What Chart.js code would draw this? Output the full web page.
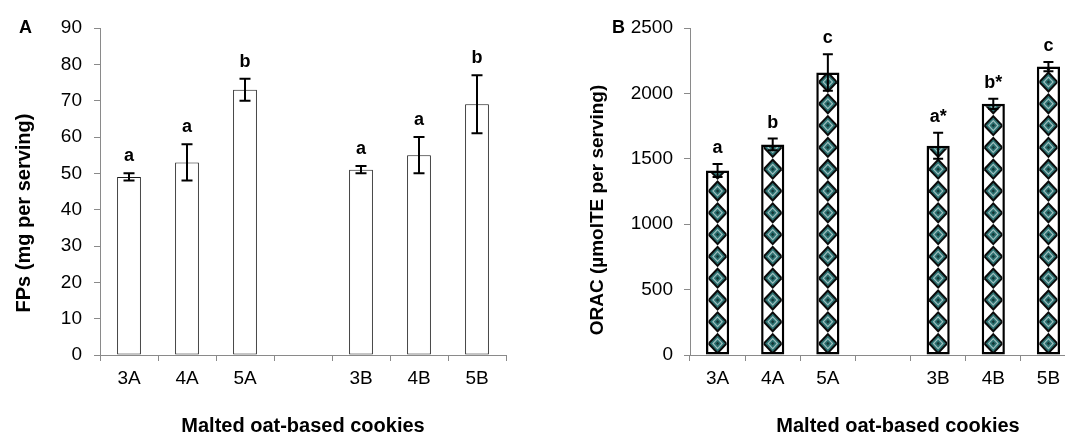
<!DOCTYPE html>
<html>
<head>
<meta charset="utf-8">
<script src="https://cdn.jsdelivr.net/npm/chart.js@4"></script>
<style>
  html, body { margin: 0; padding: 0; width: 1065px; height: 434px; overflow: hidden; background: #fff; }
  #wrap { position: relative; width: 1065px; height: 434px; overflow: hidden; }
  canvas { position: absolute; top: 0; }
  #fps { left: 0; }
  #orac { left: 545px; }
</style>
</head>
<body>
<div id="wrap">
  <canvas id="fps" width="545" height="434"></canvas>
  <canvas id="orac" width="545" height="434"></canvas>
</div>
<script>
// Cookie formulations (blank slot separates the A and B series)
const categories = ['3A', '4A', '5A', '', '3B', '4B', '5B'];

// Panel A: free phenolics, mg per serving (mean and SD)
const fpsMeans   = [49, 53, 73, null, 51, 55, 69];
const fpsErrors  = [1, 5, 3, null, 1, 5, 8];
const fpsLetters = ['a', 'a', 'b', '', 'a', 'a', 'b'];
const fpsTicks   = { min: 0, max: 90, step: 10 };

// Panel B: ORAC, µmol TE per serving (mean and SD)
const oracMeans   = [1410, 1610, 2160, null, 1600, 1920, 2205];
const oracErrors  = [50, 45, 140, null, 100, 40, 35];
const oracLetters = ['a', 'b', 'c', '', 'a*', 'b*', 'c'];
const oracTicks   = { min: 0, max: 2500, step: 500 };

const FONT = '"Liberation Sans", Arial, Helvetica, sans-serif';
const AXIS_GREY = '#8a8a8a';

// Column of layered diamonds inside each bar
const diamondFill = {
  id: 'diamondFill',
  afterDatasetsDraw(chart, args, opts) {
    if (!opts.enabled) return;
    const { ctx, scales: { y } } = chart;
    const meta = chart.getDatasetMeta(0);
    const values = chart.data.datasets[0].data;
    const bw = opts.border;
    const h = y.getPixelForValue(0) - y.getPixelForValue(opts.unitsPerDiamond);
    const layers = [
      [1.0, '#0a0a0a'],
      [0.74, '#2a6f6f'],
      [0.53, '#9fbfbf'],
      [0.37, '#2a6f6f'],
      [0.16, '#143636']
    ];
    meta.data.forEach((bar, i) => {
      if (values[i] == null) return;
      const { x, y: top, base, width } = bar.getProps(['x', 'y', 'base', 'width'], true);
      const l = x - width / 2 + bw, r = x + width / 2 - bw;
      const t = top + bw, b = base - bw;
      const hw = width / 2 - bw / 2, hh = h / 2;
      ctx.save();
      ctx.beginPath();
      ctx.rect(l, t, r - l, b - t);
      ctx.clip();
      for (let cy = base - hh; cy + hh > t; cy -= h) {
        layers.forEach(([s, c]) => {
          ctx.beginPath();
          ctx.moveTo(x, cy - hh * s);
          ctx.lineTo(x + hw * s, cy);
          ctx.lineTo(x, cy + hh * s);
          ctx.lineTo(x - hw * s, cy);
          ctx.closePath();
          ctx.fillStyle = c;
          ctx.fill();
        });
      }
      ctx.restore();
    });
  }
};

// SD whiskers and significance letters above each bar
const errorBars = {
  id: 'errorBars',
  afterDatasetsDraw(chart, args, opts) {
    const { ctx, scales: { y } } = chart;
    const meta = chart.getDatasetMeta(0);
    const values = chart.data.datasets[0].data;
    ctx.save();
    ctx.strokeStyle = '#000';
    ctx.lineWidth = 2;
    ctx.fillStyle = '#000';
    ctx.font = 'bold 18px ' + FONT;
    ctx.textAlign = 'center';
    ctx.textBaseline = 'alphabetic';
    meta.data.forEach((bar, i) => {
      const v = values[i];
      if (v == null) return;
      const e = opts.errors[i];
      const top = y.getPixelForValue(v + e);
      const bot = y.getPixelForValue(v - e);
      const x = bar.x, c = opts.cap / 2;
      ctx.beginPath();
      ctx.moveTo(x, top); ctx.lineTo(x, bot);
      ctx.moveTo(x - c, top); ctx.lineTo(x + c, top);
      ctx.moveTo(x - c, bot); ctx.lineTo(x + c, bot);
      ctx.stroke();
      ctx.fillText(opts.letters[i], x, top - opts.gap);
    });
    ctx.restore();
  }
};

// Panel letter and axis titles
const panelText = {
  id: 'panelText',
  afterDraw(chart, args, opts) {
    const { ctx } = chart;
    ctx.save();
    ctx.fillStyle = '#000';
    ctx.textBaseline = 'alphabetic';
    ctx.font = 'bold 18px ' + FONT;
    ctx.textAlign = 'left';
    ctx.fillText(opts.panel.text, opts.panel.x, opts.panel.y);
    ctx.font = 'bold ' + opts.xTitle.size + 'px ' + FONT;
    ctx.textAlign = 'center';
    ctx.fillText(opts.xTitle.text, opts.xTitle.x, opts.xTitle.y);
    ctx.translate(opts.yTitle.x, opts.yTitle.y);
    ctx.rotate(-Math.PI / 2);
    ctx.font = 'bold ' + opts.yTitle.size + 'px ' + FONT;
    ctx.textBaseline = 'middle';
    ctx.fillText(opts.yTitle.text, 0, 0);
    ctx.restore();
  }
};

function axes(t, yWidth, yPad) {
  return {
    x: {
      type: 'category',
      offset: true,
      grid: { display: true, drawOnChartArea: false, tickLength: 6, color: AXIS_GREY, offset: true },
      border: { display: true, color: AXIS_GREY, width: 1 },
      ticks: { color: '#000', font: { family: FONT, size: 19 }, padding: 6, maxRotation: 0, autoSkip: false },
      afterFit(s) { s.height = 79; }
    },
    y: {
      min: t.min,
      max: t.max,
      grid: { drawOnChartArea: false, tickLength: 6, color: AXIS_GREY },
      border: { display: true, color: AXIS_GREY, width: 1 },
      ticks: {
        stepSize: t.step,
        color: '#000',
        font: { family: FONT, size: 19 },
        padding: yPad,
        callback: (v) => String(v)
      },
      afterFit(s) { s.width = yWidth; }
    }
  };
}

new Chart(document.getElementById('fps'), {
  type: 'bar',
  data: {
    labels: categories,
    datasets: [{
      data: fpsMeans,
      backgroundColor: '#ffffff',
      borderColor: '#1a1a1a',
      borderWidth: 1,
      borderSkipped: false,
      categoryPercentage: 1,
      barPercentage: 0.41
    }]
  },
  options: {
    responsive: false,
    animation: false,
    layout: { padding: { top: 28, right: 39, bottom: 0, left: 0 } },
    scales: axes(fpsTicks, 100, 12),
    plugins: {
      legend: { display: false },
      tooltip: { enabled: false },
      diamondFill: { enabled: false },
      errorBars: { errors: fpsErrors, letters: fpsLetters, cap: 11, gap: 12 },
      panelText: {
        panel: { text: 'A', x: 19, y: 33 },
        xTitle: { text: 'Malted oat-based cookies', x: 303, y: 432, size: 20 },
        yTitle: { text: 'FPs (mg per serving)', x: 24, y: 213, size: 20 }
      }
    }
  },
  plugins: [diamondFill, errorBars, panelText]
});

new Chart(document.getElementById('orac'), {
  type: 'bar',
  data: {
    labels: categories,
    datasets: [{
      data: oracMeans,
      backgroundColor: '#ffffff',
      borderColor: '#000000',
      borderWidth: 2.5,
      borderSkipped: false,
      categoryPercentage: 1,
      barPercentage: 0.42
    }]
  },
  options: {
    responsive: false,
    animation: false,
    layout: { padding: { top: 28, right: 14, bottom: 0, left: 0 } },
    scales: axes(oracTicks, 145, 11),
    plugins: {
      legend: { display: false },
      tooltip: { enabled: false },
      diamondFill: { enabled: true, border: 2.5, unitsPerDiamond: 500 / 3 },
      errorBars: { errors: oracErrors, letters: oracLetters, cap: 10, gap: 11 },
      panelText: {
        panel: { text: 'B', x: 67, y: 33 },
        xTitle: { text: 'Malted oat-based cookies', x: 353, y: 432, size: 20 },
        yTitle: { text: 'ORAC (µmolTE per serving)', x: 53, y: 210, size: 19 }
      }
    }
  },
  plugins: [diamondFill, errorBars, panelText]
});
</script>
</body>
</html>
